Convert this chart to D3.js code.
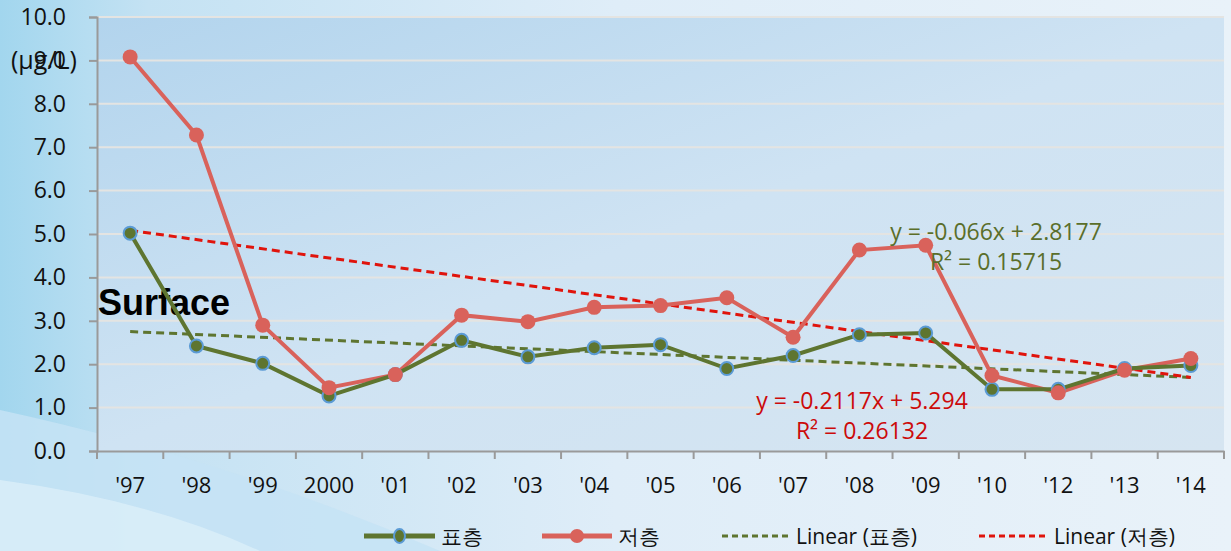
<!DOCTYPE html>
<html>
<head>
<meta charset="utf-8">
<script src="https://cdn.jsdelivr.net/npm/d3@7"></script>
<style>
  html, body { margin: 0; padding: 0; overflow: hidden; }
  #chart { width: 1231px; height: 551px; }
</style>
</head>
<body>
<div id="chart"></div>
<script>
// categories and values
var years = ["'97", "'98", "'99", "2000", "'01", "'02", "'03", "'04", "'05", "'06", "'07", "'08", "'09", "'10", "'12", "'13", "'14"];
var surface = [5.02, 2.42, 2.02, 1.27, 1.76, 2.55, 2.17, 2.38, 2.45, 1.9, 2.2, 2.68, 2.72, 1.42, 1.42, 1.9, 1.97];
var bottom = [9.08, 7.28, 2.9, 1.46, 1.76, 3.13, 2.98, 3.31, 3.35, 3.53, 2.62, 4.63, 4.74, 1.74, 1.34, 1.86, 2.13];
var yTicks = [0, 1, 2, 3, 4, 5, 6, 7, 8, 9, 10];
// trendline coefficients as printed on the chart (x = 1..n)
var trendSurface = { slope: -0.066, intercept: 2.8177, label: "y = -0.066x + 2.8177", r2: "R² = 0.15715" };
var trendBottom = { slope: -0.2117, intercept: 5.294, label: "y = -0.2117x + 5.294", r2: "R² = 0.26132" };

var W = 1231, H = 551;
var m = { left: 97, right: 7, top: 17, bottom: 100 };

var svg = d3.select("#chart").append("svg")
    .attr("width", W)
    .attr("height", H);

var defs = svg.append("defs");
var bg = defs.append("linearGradient").attr("id", "bg").attr("x1", "0").attr("x2", "1").attr("y1", "0").attr("y2", "0");
bg.append("stop").attr("offset", "0").attr("stop-color", "#a2d6ee");
bg.append("stop").attr("offset", "0.12").attr("stop-color", "#c4e2f3");
bg.append("stop").attr("offset", "0.5").attr("stop-color", "#dfedf8");
bg.append("stop").attr("offset", "1").attr("stop-color", "#e9f2f9");

var pg = defs.append("linearGradient").attr("id", "pg").attr("x1", "0").attr("x2", "1").attr("y1", "0").attr("y2", "1");
pg.append("stop").attr("offset", "0").attr("stop-color", "#b2d4ed");
pg.append("stop").attr("offset", "0.5").attr("stop-color", "#cfe3f3");
pg.append("stop").attr("offset", "1").attr("stop-color", "#d6e5f1");

svg.append("rect").attr("width", W).attr("height", H).attr("fill", "url(#bg)");
// soft curved bands bottom-left
svg.append("path")
    .attr("d", "M0,410 Q230,460 440,551 L0,551 Z")
    .attr("fill", "#c6e3f4").attr("opacity", 0.85);
svg.append("path")
    .attr("d", "M0,480 Q150,500 260,551 L0,551 Z")
    .attr("fill", "#d8edf8").attr("opacity", 0.9);

var x = d3.scaleBand()
    .domain(years)
    .range([m.left, W - m.right]);

var y = d3.scaleLinear()
    .domain([0, 10])
    .range([H - m.bottom, m.top]);

var cx = function(i) { return x(years[i]) + x.bandwidth() / 2; };

// plot area
svg.append("rect")
    .attr("x", m.left).attr("y", m.top)
    .attr("width", W - m.right - m.left)
    .attr("height", H - m.bottom - m.top)
    .attr("fill", "url(#pg)");

// gridlines
svg.append("g")
    .selectAll("line")
    .data(yTicks.filter(function(d) { return d > 0; }))
    .enter()
    .append("line")
    .attr("x1", m.left).attr("x2", W - m.right)
    .attr("y1", function(d) { return y(d); })
    .attr("y2", function(d) { return y(d); })
    .attr("stroke", "#e4e4e2")
    .attr("stroke-width", 2);

var font = "'Open Sans', sans-serif";

// y axis
var yAxis = svg.append("g")
    .attr("transform", "translate(" + m.left + ",0)")
    .call(d3.axisLeft(y).tickValues(yTicks).tickFormat(d3.format(".1f")).tickSize(8).tickPadding(23));
yAxis.select(".domain").attr("stroke", "#9a9a9a").attr("stroke-width", 2);
yAxis.selectAll(".tick line").attr("stroke", "#9a9a9a").attr("stroke-width", 2);
yAxis.selectAll(".tick text").attr("fill", "#111").style("font-family", font).style("font-size", "23px");

// x axis
var xAxis = svg.append("g")
    .attr("transform", "translate(0," + (H - m.bottom) + ")")
    .call(d3.axisBottom(x).tickSize(0).tickPadding(26));
xAxis.select(".domain").attr("stroke", "#9a9a9a").attr("stroke-width", 2);
xAxis.selectAll(".tick text").attr("fill", "#111").style("font-family", font).style("font-size", "22px");
// tick marks at category boundaries
xAxis.selectAll(".bound")
    .data(years.concat(["end"]))
    .enter()
    .append("line")
    .attr("x1", function(d, i) { return m.left + i * x.bandwidth(); })
    .attr("x2", function(d, i) { return m.left + i * x.bandwidth(); })
    .attr("y1", 0).attr("y2", 8)
    .attr("stroke", "#9a9a9a").attr("stroke-width", 2);

// unit label (overlaps 9.0 like the original)
svg.append("text")
    .attr("x", 11).attr("y", 69)
    .style("font-family", font).style("font-size", "25px")
    .attr("fill", "#111")
    .text("(μg/L)");

// Surface label
svg.append("text")
    .attr("x", 98).attr("y", 315)
    .style("font-family", "'Liberation Sans', Arial, sans-serif")
    .style("font-size", "36px").style("font-weight", "bold")
    .attr("fill", "#000")
    .text("Surface");

var green = "#5e7530", red = "#d9625b";

// trendlines
function trendLine(t, color) {
    var n = years.length;
    svg.append("line")
        .attr("x1", cx(0)).attr("y1", y(t.slope * 1 + t.intercept))
        .attr("x2", cx(n - 1)).attr("y2", y(t.slope * n + t.intercept))
        .attr("stroke", color).attr("stroke-width", 3)
        .attr("stroke-dasharray", "8,5");
}
trendLine(trendSurface, green);
trendLine(trendBottom, "#e0140c");

var line = d3.line()
    .x(function(d, i) { return cx(i); })
    .y(function(d) { return y(d); });

// bottom layer (저층)
svg.append("path").datum(bottom)
    .attr("d", line).attr("fill", "none")
    .attr("stroke", red).attr("stroke-width", 4);
// surface layer (표층)
svg.append("path").datum(surface)
    .attr("d", line).attr("fill", "none")
    .attr("stroke", green).attr("stroke-width", 4);

svg.append("g").selectAll("circle")
    .data(surface).enter().append("circle")
    .attr("cx", function(d, i) { return cx(i); })
    .attr("cy", function(d) { return y(d); })
    .attr("r", 6.5)
    .attr("fill", green).attr("stroke", "#5b9bd5").attr("stroke-width", 2);

svg.append("g").selectAll("circle")
    .data(bottom).enter().append("circle")
    .attr("cx", function(d, i) { return cx(i); })
    .attr("cy", function(d) { return y(d); })
    .attr("r", 7.5)
    .attr("fill", red);

// equations
function eqLabel(t, color, xx, yy) {
    var g = svg.append("g").style("font-family", font).style("font-size", "23px").attr("fill", color);
    g.append("text").attr("x", xx).attr("y", yy).attr("text-anchor", "middle").text(t.label);
    g.append("text").attr("x", xx).attr("y", yy + 30).attr("text-anchor", "middle").text(t.r2);
}
eqLabel(trendSurface, "#5a6e2a", 996, 240);
eqLabel(trendBottom, "#cc0a0a", 862, 409);

// legend
var legend = svg.append("g").attr("transform", "translate(0,536)")
    .style("font-family", font).style("font-size", "21px").attr("fill", "#111");
var items = [
    { x: 364, w: 71, color: green, dash: null, marker: "s", label: "표층" },
    { x: 542, w: 70, color: red, dash: null, marker: "b", label: "저층" },
    { x: 722, w: 68, color: green, dash: "6,4", marker: null, label: "Linear (표층)" },
    { x: 979, w: 69, color: "#e0140c", dash: "6,4", marker: null, label: "Linear (저층)" }
];
items.forEach(function(it) {
    legend.append("line")
        .attr("x1", it.x).attr("x2", it.x + it.w)
        .attr("stroke", it.color).attr("stroke-width", it.dash ? 3 : 5)
        .attr("stroke-dasharray", it.dash);
    if (it.marker === "s") {
        legend.append("ellipse").attr("cx", it.x + it.w / 2).attr("rx", 5.5).attr("ry", 7)
            .attr("fill", green).attr("stroke", "#5b9bd5").attr("stroke-width", 2);
    } else if (it.marker === "b") {
        legend.append("circle").attr("cx", it.x + it.w / 2).attr("r", 7).attr("fill", red);
    }
    legend.append("text").attr("x", it.x + it.w + 6).attr("y", 8).text(it.label);
});
</script>
</body>
</html>
